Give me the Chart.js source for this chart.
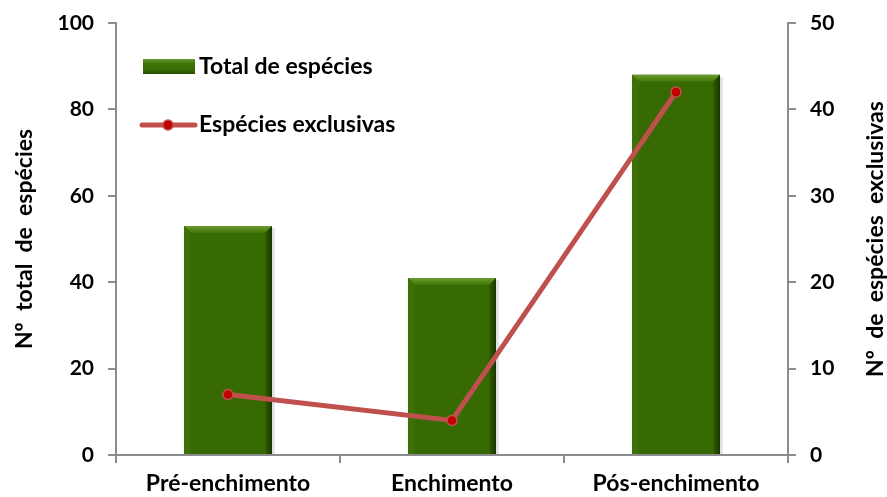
<!DOCTYPE html>
<html>
<head>
<meta charset="utf-8">
<script src="https://cdn.jsdelivr.net/npm/chart.js@4.4.0/dist/chart.umd.min.js"></script>
<style>
  html, body { margin: 0; padding: 0; background: #fff; }
  #wrap { width: 887px; height: 497px; position: relative; }
</style>
</head>
<body>
<div id="wrap"><canvas id="speciesChart" width="887" height="497"></canvas></div>
<script>
/* Espécies por fase */
const categories = ['Pré-enchimento', 'Enchimento', 'Pós-enchimento'];
const totalSpecies = [53, 41, 88];
const exclusiveSpecies = [7, 4, 42];
const leftTicks = [0, 20, 40, 60, 80, 100];
const rightTicks = [0, 10, 20, 30, 40, 50];

const FONT = "Lato, 'Open Sans', sans-serif";
const TEXT_SIZE = 23;
const TICK_SIZE = 21;
const AXIS_GRAY = '#8c8c8c';
const LINE_RED = '#c0504d';
const BAR_GREEN = '#386a04';

// bevel edges on each bar, drawn right after the bars (before the line)
const bevel = {
  id: 'bevel',
  afterDatasetDraw(chart, args) {
    if (chart.data.datasets[args.index].type !== 'bar') return;
    const ctx = chart.ctx;
    const b = 7;
    ctx.save();
    args.meta.data.forEach(el => {
      const l = el.x - el.width / 2, r = el.x + el.width / 2;
      const t = el.y, btm = el.base;
      // soft shadow on the right
      ctx.fillStyle = 'rgba(0,0,0,0.10)';
      ctx.fillRect(r, t + 2, 3, btm - t - 2);
      // top bevel
      const gt = ctx.createLinearGradient(0, t, 0, t + b);
      gt.addColorStop(0, '#6d9a35');
      gt.addColorStop(0.5, '#558a18');
      gt.addColorStop(1, '#3f740a');
      ctx.fillStyle = gt;
      ctx.beginPath();
      ctx.moveTo(l, t); ctx.lineTo(r, t); ctx.lineTo(r - b, t + b); ctx.lineTo(l + b, t + b);
      ctx.closePath(); ctx.fill();
      // right bevel
      const gr = ctx.createLinearGradient(r - b, 0, r, 0);
      gr.addColorStop(0, '#315f03');
      gr.addColorStop(1, '#1a3500');
      ctx.fillStyle = gr;
      ctx.beginPath();
      ctx.moveTo(r, t); ctx.lineTo(r, btm); ctx.lineTo(r - b, btm); ctx.lineTo(r - b, t + b);
      ctx.closePath(); ctx.fill();
      // left bevel
      ctx.fillStyle = '#3d7107';
      ctx.beginPath();
      ctx.moveTo(l, t); ctx.lineTo(l + b, t + b); ctx.lineTo(l + b, btm); ctx.lineTo(l, btm);
      ctx.closePath(); ctx.fill();
    });
    ctx.restore();
  }
};

// legend drawn inside plot + right-side title reading bottom-to-top
const overlay = {
  id: 'overlay',
  afterDraw(chart) {
    const ctx = chart.ctx;
    ctx.save();
    ctx.font = `bold ${TEXT_SIZE}px ${FONT}`;
    ctx.fillStyle = '#000';
    ctx.textBaseline = 'middle';

    // bar swatch
    const g = ctx.createLinearGradient(0, 59, 0, 74);
    g.addColorStop(0, '#6d9a35');
    g.addColorStop(0.3, '#3f740a');
    g.addColorStop(0.75, BAR_GREEN);
    g.addColorStop(1, '#254a02');
    ctx.fillStyle = g;
    ctx.fillRect(143, 59, 52, 15);
    ctx.fillStyle = '#000';
    ctx.fillText('Total de espécies', 199, 67);

    // line swatch
    ctx.strokeStyle = LINE_RED;
    ctx.lineWidth = 5;
    ctx.lineCap = 'round';
    ctx.beginPath();
    ctx.moveTo(142, 125);
    ctx.lineTo(195, 125);
    ctx.stroke();
    ctx.beginPath();
    ctx.arc(168, 125, 5, 0, Math.PI * 2);
    ctx.fillStyle = '#c00000';
    ctx.fill();
    ctx.lineWidth = 1.5;
    ctx.strokeStyle = LINE_RED;
    ctx.stroke();
    ctx.fillStyle = '#000';
    ctx.fillText('Espécies exclusivas', 199, 125);

    // right axis title
    const area = chart.chartArea;
    ctx.translate(876, (area.top + area.bottom) / 2);
    ctx.rotate(-Math.PI / 2);
    ctx.textAlign = 'center';
    ctx.fillText('Nº  de  espécies  exclusivas', 0, 0);
    ctx.restore();
  }
};

function fitVertical(width) {
  return s => { s.width = width; s.paddingTop = 0; s.paddingBottom = 0; };
}

const ctx = document.getElementById('speciesChart').getContext('2d');
new Chart(ctx, {
  data: {
    labels: categories,
    datasets: [
      {
        type: 'line',
        label: 'Espécies exclusivas',
        data: exclusiveSpecies,
        yAxisID: 'y1',
        borderColor: LINE_RED,
        borderWidth: 5,
        pointRadius: 5,
        pointBackgroundColor: '#c00000',
        pointBorderColor: LINE_RED,
        pointBorderWidth: 1.5,
        tension: 0,
        order: 0,
      },
      {
        type: 'bar',
        label: 'Total de espécies',
        data: totalSpecies,
        yAxisID: 'y',
        backgroundColor: BAR_GREEN,
        borderWidth: 0,
        categoryPercentage: 1,
        barPercentage: 0.393,
        order: 1,
      },
    ],
  },
  options: {
    responsive: false,
    animation: false,
    devicePixelRatio: 1,
    layout: { padding: { top: 23, left: 0, right: 0, bottom: 0 } },
    plugins: { legend: { display: false }, tooltip: { enabled: false } },
    scales: {
      x: {
        offset: true,
        border: { display: true, color: AXIS_GRAY, width: 2 },
        grid: { display: true, drawOnChartArea: false, drawTicks: true, tickLength: 8, color: AXIS_GRAY, lineWidth: 2, offset: true },
        ticks: { color: '#000', font: { family: FONT, size: TEXT_SIZE, weight: 'bold' }, padding: 7, maxRotation: 0 },
        afterFit: s => { s.height = 42; s.paddingLeft = 0; s.paddingRight = 0; },
      },
      y: {
        position: 'left',
        min: 0,
        max: 100,
        afterBuildTicks: s => { s.ticks = leftTicks.map(v => ({ value: v })); },
        border: { display: true, color: AXIS_GRAY, width: 2 },
        grid: { display: true, drawOnChartArea: false, drawTicks: true, tickLength: 8, color: AXIS_GRAY, lineWidth: 2 },
        ticks: { color: '#000', font: { family: FONT, size: TICK_SIZE, weight: 'bold' }, padding: 14 },
        title: { display: true, text: 'Nº  total  de  espécies', color: '#000', font: { family: FONT, size: TEXT_SIZE, weight: 'bold' }, padding: { top: 11, bottom: 0 } },
        afterFit: fitVertical(116),
      },
      y1: {
        position: 'right',
        min: 0,
        max: 50,
        afterBuildTicks: s => { s.ticks = rightTicks.map(v => ({ value: v })); },
        border: { display: true, color: AXIS_GRAY, width: 2 },
        grid: { display: true, drawOnChartArea: false, drawTicks: true, tickLength: 8, color: AXIS_GRAY, lineWidth: 2 },
        ticks: { color: '#000', font: { family: FONT, size: TICK_SIZE, weight: 'bold' }, padding: 14 },
        afterFit: fitVertical(99),
      },
    },
  },
  plugins: [bevel, overlay],
});
</script>
</body>
</html>
